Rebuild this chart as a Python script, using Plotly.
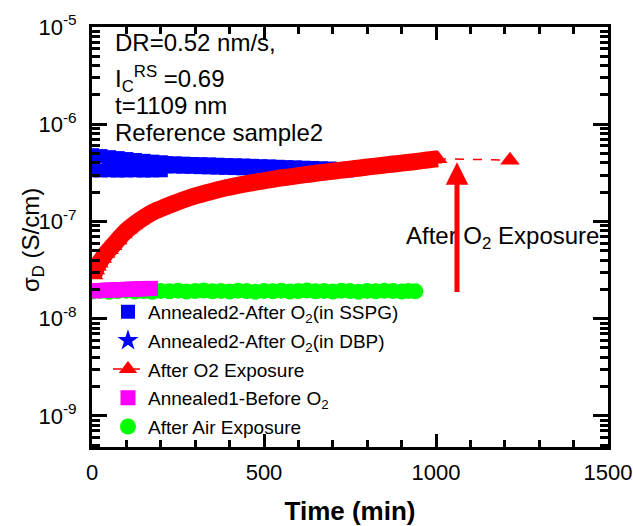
import plotly.graph_objects as go

# ---------------- data ----------------
# Annealed2-After O2 (in SSPG): band of blue squares, upper and lower envelope
blue_t = [0, 25, 50, 75, 100, 125, 150, 175, 200, 215, 240, 265, 290, 315, 340, 365,
          390, 415, 440, 465, 490, 515, 540, 565, 590, 615, 640, 665, 690, 715, 740]
blue_upper = [4.80e-7, 4.70e-7, 4.58e-7, 4.48e-7, 4.38e-7, 4.28e-7, 4.20e-7, 4.12e-7, 4.06e-7,
              3.98e-7, 3.96e-7, 3.93e-7, 3.90e-7, 3.88e-7, 3.86e-7, 3.83e-7, 3.80e-7, 3.78e-7,
              3.76e-7, 3.73e-7, 3.70e-7, 3.68e-7, 3.65e-7, 3.62e-7, 3.60e-7, 3.57e-7, 3.55e-7,
              3.52e-7, 3.50e-7, 3.47e-7, 3.45e-7]
blue_lower = [3.36e-7, 3.35e-7, 3.36e-7, 3.34e-7, 3.35e-7, 3.36e-7, 3.34e-7, 3.35e-7, 3.36e-7,
              3.69e-7, 3.68e-7, 3.66e-7, 3.65e-7, 3.62e-7, 3.60e-7, 3.58e-7, 3.56e-7, 3.54e-7,
              3.52e-7, 3.50e-7, 3.48e-7, 3.46e-7, 3.44e-7, 3.42e-7, 3.40e-7, 3.39e-7, 3.38e-7,
              3.37e-7, 3.36e-7, 3.35e-7, 3.34e-7]

# After O2 Exposure (red triangles, dashed line); last point is the isolated one
red_t = [5, 10, 15, 20, 30, 40, 50, 60, 75, 90, 105, 120, 140, 160, 180, 200, 225, 250, 275,
         300, 330, 360, 390, 420, 450, 480, 510, 540, 570, 600, 630, 660, 690, 720, 750, 780,
         810, 840, 870, 900, 930, 960, 990, 1005, 1215]
red_v = [2.82e-8, 3.16e-8, 3.47e-8, 3.72e-8, 4.17e-8, 4.68e-8, 5.13e-8, 5.62e-8, 6.46e-8,
         7.41e-8, 8.32e-8, 9.20e-8, 1.035e-7, 1.15e-7, 1.26e-7, 1.35e-7, 1.47e-7, 1.59e-7,
         1.71e-7, 1.83e-7, 1.96e-7, 2.09e-7, 2.22e-7, 2.34e-7, 2.45e-7, 2.55e-7, 2.66e-7,
         2.77e-7, 2.86e-7, 2.96e-7, 3.06e-7, 3.16e-7, 3.25e-7, 3.35e-7, 3.45e-7, 3.55e-7,
         3.66e-7, 3.76e-7, 3.87e-7, 3.98e-7, 4.09e-7, 4.22e-7, 4.35e-7, 4.41e-7, 4.27e-7]

# Annealed1-Before O2 (magenta squares)
mag_t = [0, 10, 20, 30, 40, 50, 60, 70, 80, 90, 100, 110, 120, 130, 140, 150, 160, 170]
mag_v = [1.93e-8, 1.94e-8, 1.95e-8, 1.95e-8, 1.96e-8, 1.97e-8, 1.97e-8, 1.98e-8, 1.99e-8,
         1.99e-8, 2.00e-8, 2.01e-8, 2.01e-8, 2.02e-8, 2.03e-8, 2.03e-8, 2.04e-8, 2.05e-8]

# After Air Exposure (green circles)
green_t = [0, 25, 50, 75, 100, 125, 150, 175, 200, 225, 250, 275, 300, 325, 350, 375, 400,
           425, 450, 475, 500, 525, 550, 575, 600, 625, 650, 675, 700, 725, 750, 775, 800,
           825, 850, 875, 900, 920, 940]
green_v = [1.90e-8, 1.93e-8, 1.89e-8, 1.92e-8, 1.94e-8, 1.90e-8, 1.92e-8, 1.89e-8, 1.93e-8,
           1.91e-8, 1.94e-8, 1.90e-8, 1.92e-8, 1.95e-8, 1.91e-8, 1.93e-8, 1.90e-8, 1.94e-8,
           1.92e-8, 1.89e-8, 1.93e-8, 1.91e-8, 1.94e-8, 1.90e-8, 1.92e-8, 1.95e-8, 1.91e-8,
           1.93e-8, 1.90e-8, 1.94e-8, 1.92e-8, 1.89e-8, 1.93e-8, 1.91e-8, 1.94e-8, 1.92e-8,
           1.90e-8, 1.93e-8, 1.91e-8]

x_ticks = [0, 500, 1000, 1500]
y_ticks = [1e-9, 1e-8, 1e-7, 1e-6, 1e-5]
y_ticktext = ["10<sup>-9</sup>", "10<sup>-8</sup>", "10<sup>-7</sup>", "10<sup>-6</sup>", "10<sup>-5</sup>"]

FONT = "Liberation Sans, Arial, sans-serif"
RED, BLUE, MAG, GREEN = "#ff0000", "#0000ff", "#ff00ff", "#00ff00"

fig = go.Figure()

fig.add_trace(go.Scatter(
    x=green_t, y=green_v, mode="markers", name="After Air Exposure",
    marker=dict(symbol="circle", size=16, color=GREEN, line=dict(width=0)),
    legendrank=5, legendgroup="g5"))
fig.add_trace(go.Scatter(
    x=mag_t, y=mag_v, mode="markers", name="Annealed1-Before O<sub>2</sub>",
    marker=dict(symbol="square", size=15, color=MAG, line=dict(width=0)),
    legendrank=4, legendgroup="g4"))
fig.add_trace(go.Scatter(
    x=blue_t + blue_t, y=blue_upper + blue_lower, mode="markers",
    name="Annealed2-After O<sub>2</sub>(in SSPG)",
    marker=dict(symbol="square", size=14, color=BLUE, line=dict(width=0)),
    legendrank=1, legendgroup="g1"))
fig.add_trace(go.Scatter(
    x=[None], y=[None], mode="markers", name="Annealed2-After O<sub>2</sub>(in DBP)",
    marker=dict(symbol="star", size=16, color=BLUE, line=dict(width=0)),
    legendrank=2, legendgroup="g2"))
# dense overlapping red triangles form a thick band: draw the band body under the markers
fig.add_trace(go.Scatter(
    x=red_t[:-1], y=red_v[:-1], mode="lines", showlegend=False, hoverinfo="skip",
    line=dict(color=RED, width=17, shape="spline", smoothing=0.6), legendgroup="g3"))
fig.add_trace(go.Scatter(
    x=red_t, y=red_v, mode="lines+markers", name="After O2 Exposure",
    line=dict(color=RED, width=1.5, dash="dash"),
    marker=dict(symbol="triangle-up", size=17, color=RED, line=dict(width=0)),
    legendrank=3, legendgroup="g3"))

axis_common = dict(
    showline=True, linewidth=3, linecolor="black", mirror="ticks",
    ticks="inside", tickwidth=3, tickcolor="black", showgrid=False, zeroline=False,
    tickfont=dict(family=FONT, size=22, color="black"), automargin=False,
)

fig.update_xaxes(
    range=[0, 1500], tickvals=x_ticks, ticklen=13, ticklabelstandoff=4,
    minor=dict(ticks="inside", dtick=100, ticklen=7, tickwidth=3, tickcolor="black", showgrid=False),
    title=dict(text="<b>Time (min)</b>", font=dict(family=FONT, size=26, color="black"), standoff=24),
    **axis_common)
fig.update_yaxes(
    type="log", range=[-9.32, -5], tickvals=y_ticks, ticktext=y_ticktext, ticklen=15,
    ticklabelstandoff=8,
    minor=dict(ticks="inside", dtick="D1", ticklen=8, tickwidth=3, tickcolor="black", showgrid=False),
    **axis_common)

# y-axis title placed as rotated text
fig.add_annotation(xref="paper", yref="paper", x=-0.114, y=0.493, xanchor="center", yanchor="middle",
                   text="σ<sub>D</sub> (S/cm)", textangle=-90, showarrow=False,
                   font=dict(family=FONT, size=24, color="black"))

ann_font = dict(family=FONT, size=24, color="black")
annotations = [
    dict(text="DR=0.52 nm/s,", x=0.04, y=0.962),
    dict(text="I<sub>C</sub><sup>RS</sup> =0.69", x=0.04, y=0.876),
    dict(text="t=1109 nm", x=0.04, y=0.812),
    dict(text="Reference sample2", x=0.04, y=0.748),
]
for a in annotations:
    fig.add_annotation(xref="paper", yref="paper", xanchor="left", yanchor="middle",
                       showarrow=False, font=ann_font, **a)

fig.add_annotation(xref="paper", yref="paper", x=0.795, y=0.5, xanchor="center", yanchor="middle",
                   text="After O<sub>2</sub> Exposure", showarrow=False, font=ann_font)

# vertical red arrow
fig.add_annotation(xref="x", yref="y", axref="x", ayref="y",
                   x=1061, y=-6.392, ax=1061, ay=-7.742, text="",
                   showarrow=True, arrowhead=2, arrowsize=0.9, arrowwidth=5, arrowcolor=RED)

fig.update_layout(
    width=633, height=526,
    margin=dict(l=92, r=25, t=27, b=79),
    paper_bgcolor="white", plot_bgcolor="white",
    font=dict(family=FONT, color="black"),
    legend=dict(x=0.031, y=0.367, xanchor="left", yanchor="top", bgcolor="rgba(0,0,0,0)",
                font=dict(family=FONT, size=19, color="black"), tracegroupgap=1,
                traceorder="grouped"),
)

fig.write_html("out.html")
